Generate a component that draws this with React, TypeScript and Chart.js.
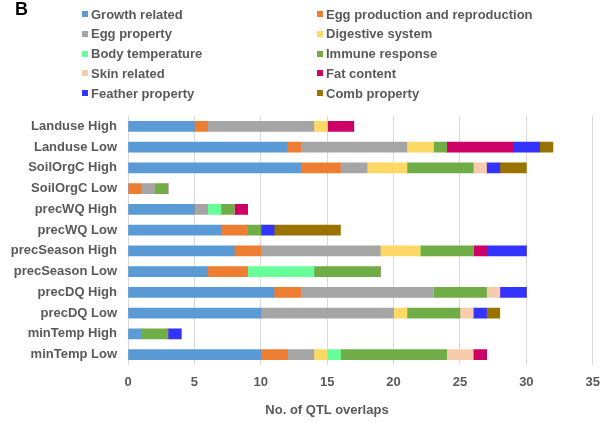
import React, { useEffect, useRef } from "react";
import { Chart, registerables } from "chart.js";

Chart.register(...registerables);

const categories = [
  "Landuse High",
  "Landuse Low",
  "SoilOrgC High",
  "SoilOrgC Low",
  "precWQ High",
  "precWQ Low",
  "precSeason High",
  "precSeason Low",
  "precDQ High",
  "precDQ Low",
  "minTemp High",
  "minTemp Low",
];

const growthRelated = [5, 12, 13, 0, 5, 7, 8, 6, 11, 10, 1, 10];
const eggProduction = [1, 1, 3, 1, 0, 2, 2, 3, 2, 0, 0, 2];
const eggProperty = [8, 8, 2, 1, 1, 0, 9, 0, 10, 10, 0, 2];
const digestiveSystem = [1, 2, 3, 0, 0, 0, 3, 0, 0, 1, 0, 1];
const bodyTemperature = [0, 0, 0, 0, 1, 0, 0, 5, 0, 0, 0, 1];
const immuneResponse = [0, 1, 5, 1, 1, 1, 4, 5, 4, 4, 2, 8];
const skinRelated = [0, 0, 1, 0, 0, 0, 0, 0, 1, 1, 0, 2];
const fatContent = [2, 5, 0, 0, 1, 0, 1, 0, 0, 0, 0, 1];
const featherProperty = [0, 2, 1, 0, 0, 1, 3, 0, 2, 1, 1, 0];
const combProperty = [0, 1, 2, 0, 0, 5, 0, 0, 0, 1, 0, 0];

const xTicks = [0, 5, 10, 15, 20, 25, 30, 35];

const seriesNames = [
  "Growth related",
  "Egg production and reproduction",
  "Egg property",
  "Digestive system",
  "Body temperature",
  "Immune response",
  "Skin related",
  "Fat content",
  "Feather property",
  "Comb property",
];
const seriesData = [
  growthRelated,
  eggProduction,
  eggProperty,
  digestiveSystem,
  bodyTemperature,
  immuneResponse,
  skinRelated,
  fatContent,
  featherProperty,
  combProperty,
];
const seriesColors = [
  "#5B9BD5",
  "#ED7D31",
  "#A5A5A5",
  "#FFD966",
  "#66FF99",
  "#70AD47",
  "#F8CBAD",
  "#CC0066",
  "#3333FF",
  "#997300",
];

// legend layout: left column, right column
const legendOrder = [
  [0, 2, 4, 6, 8],
  [1, 3, 5, 7, 9],
];

const FONT = "'Liberation Sans', Arial, sans-serif";
const TEXT = "#595959";

export default function App() {
  const ref = useRef<HTMLCanvasElement | null>(null);

  useEffect(() => {
    document.body.style.margin = "0";
    const canvas = ref.current;
    if (!canvas) return;
    const chart = new Chart(canvas, {
      type: "bar",
      data: {
        labels: categories,
        datasets: seriesNames.map((name, i) => ({
          label: name,
          data: seriesData[i],
          backgroundColor: seriesColors[i],
          borderWidth: 0,
          barThickness: 10,
        })),
      },
      options: {
        indexAxis: "y",
        responsive: false,
        animation: false,
        devicePixelRatio: 1,
        layout: { padding: { top: 116, right: 17, left: 0, bottom: 0 } },
        plugins: {
          legend: { display: false },
          tooltip: { enabled: false },
        },
        scales: {
          x: {
            stacked: true,
            min: 0,
            max: 35,
            afterBuildTicks: (scale: any) => {
              scale.ticks = xTicks.map((v) => ({ value: v }));
            },
            afterFit: (scale: any) => {
              scale.height = 58;
            },
            grid: { color: "#D9D9D9", drawTicks: false, lineWidth: 1 },
            border: { display: false },
            ticks: {
              padding: 10,
              color: TEXT,
              font: { family: FONT, size: 13, weight: "bold" },
            },
          },
          y: {
            stacked: true,
            afterFit: (scale: any) => {
              scale.width = 128;
            },
            grid: { display: false, drawTicks: false },
            border: { display: false },
            ticks: {
              padding: 11,
              color: TEXT,
              font: { family: FONT, size: 13, weight: "bold" },
            },
          },
        },
      },
    });
    return () => chart.destroy();
  }, []);

  return (
    <div style={{ position: "absolute", left: 0, top: 0, width: 610, height: 423, background: "#fff" }}>
      <canvas ref={ref} width={610} height={423} style={{ position: "absolute", left: 0, top: 0 }} />
      <div
        style={{
          position: "absolute",
          left: 15,
          top: -1,
          fontFamily: FONT,
          fontWeight: "bold",
          fontSize: 18,
          color: "#000",
          lineHeight: "20px",
        }}
      >
        B
      </div>
      {legendOrder.map((col, ci) =>
        col.map((si, ri) => (
          <div
            key={si}
            style={{
              position: "absolute",
              left: ci === 0 ? 82 : 317,
              top: 14 + ri * 19.75 - 8,
              height: 16,
              display: "flex",
              alignItems: "center",
              fontFamily: FONT,
              fontWeight: "bold",
              fontSize: 13,
              color: TEXT,
              whiteSpace: "nowrap",
            }}
          >
            <span style={{ display: "inline-block", width: 6, height: 6, background: seriesColors[si], marginRight: 3 }} />
            <span>{seriesNames[si]}</span>
          </div>
        ))
      )}
      <div
        style={{
          position: "absolute",
          left: 227,
          width: 200,
          top: 402,
          textAlign: "center",
          fontFamily: FONT,
          fontWeight: "bold",
          fontSize: 13,
          color: TEXT,
          lineHeight: "16px",
        }}
      >
        No. of QTL overlaps
      </div>
    </div>
  );
}
